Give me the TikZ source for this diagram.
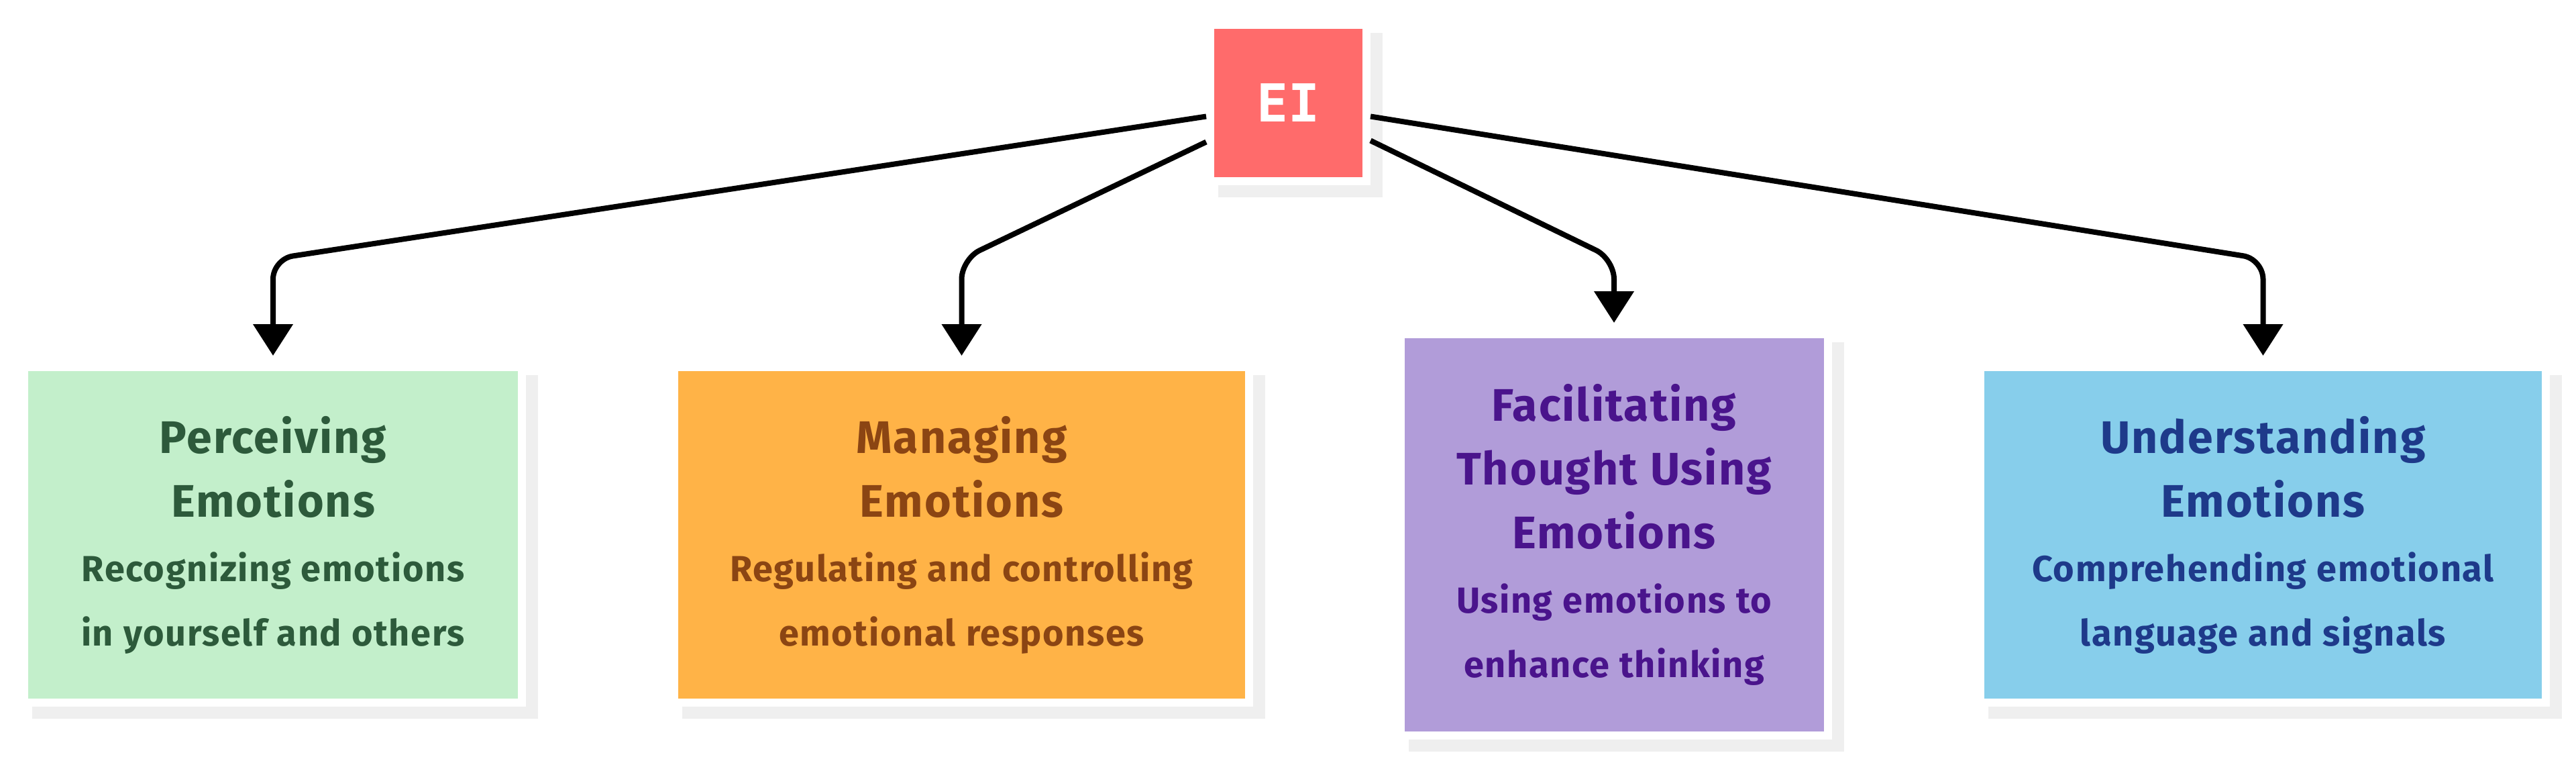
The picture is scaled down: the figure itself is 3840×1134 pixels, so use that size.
\documentclass[tikz,border=0pt]{standalone}
\usepackage{fontspec}
\setmainfont{Fira Sans}[LetterSpace=3]
\newfontfamily\eifont{DejaVu Sans Mono}
\usetikzlibrary{arrows.meta,backgrounds}
\definecolor{eired}{HTML}{FF6B6B}
\definecolor{greenf}{HTML}{C3EFCB}
\definecolor{greent}{HTML}{2D5A3B}
\definecolor{orangef}{HTML}{FFB347}
\definecolor{oranget}{HTML}{8B4513}
\definecolor{purplef}{HTML}{B19CD9}
\definecolor{purplet}{HTML}{4A148C}
\definecolor{bluef}{HTML}{87CEEB}
\definecolor{bluet}{HTML}{1E3A8A}
\definecolor{shadowc}{HTML}{EFEFEF}
\newcommand\cardtitle{\fontsize{68}{95}\selectfont\spaceskip=0.28em\relax}
\newcommand\cardsub{\fontsize{54}{96}\selectfont\spaceskip=0.28em\relax}
\tikzset{
  card/.style={rectangle, draw=white, line width=12pt, inner sep=0pt, align=center, font=\bfseries},
  conn/.style={draw=black, line width=8pt, rounded corners=30pt, -{Triangle[width=58pt,length=47pt]}, shorten >=11pt},
}
\begin{document}
\begin{tikzpicture}[x=1pt,y=-1pt]
\useasboundingbox (0,0) rectangle (3840,1134);
\node[card, fill=eired, text=white, minimum width=233pt, minimum height=233pt,
      font=\eifont\bfseries\fontsize{78}{78}\selectfont] (ei) at (1920.5,153.5) {EI};
\node[card, fill=greenf, text=greent, minimum width=742pt, minimum height=500pt, text width=720pt]
  (g) at (407,797) {\cardtitle Perceiving\\Emotions\par\cardsub Recognizing emotions\\in yourself and others\par};
\node[card, fill=orangef, text=oranget, minimum width=857pt, minimum height=500pt, text width=830pt]
  (o) at (1433.5,797) {\cardtitle Managing\\Emotions\par\cardsub Regulating and controlling\\emotional responses\par};
\node[card, fill=purplef, text=purplet, minimum width=637pt, minimum height=598pt, text width=615pt]
  (p) at (2406,797) {\cardtitle Facilitating\\Thought Using\\Emotions\par\cardsub Using emotions to\\enhance thinking\par};
\node[card, fill=bluef, text=bluet, minimum width=843pt, minimum height=500pt, text width=820pt]
  (b) at (3373.5,797) {\cardtitle Understanding\\Emotions\par\cardsub Comprehending emotional\\language and signals\par};
\coordinate (bend) at (0,386);
\begin{scope}[on background layer]
  \fill[white] (0,0) rectangle (3840,1134);
  \foreach \n in {ei,g,o,p,b}
    \fill[shadowc] ([shift={(18pt,-18pt)}]\n.north west) rectangle ([shift={(18pt,-18pt)}]\n.south east);
\end{scope}
\draw[conn] ([yshift=-20pt]ei.west) -- (g.north |- bend) -- (g.north);
\draw[conn] ([yshift=-58pt]ei.west) -- (o.north |- bend) -- (o.north);
\draw[conn] ([yshift=-56pt]ei.east) -- (p.north |- bend) -- (p.north);
\draw[conn] ([yshift=-20pt]ei.east) -- (b.north |- bend) -- (b.north);
\end{tikzpicture}
\end{document}
